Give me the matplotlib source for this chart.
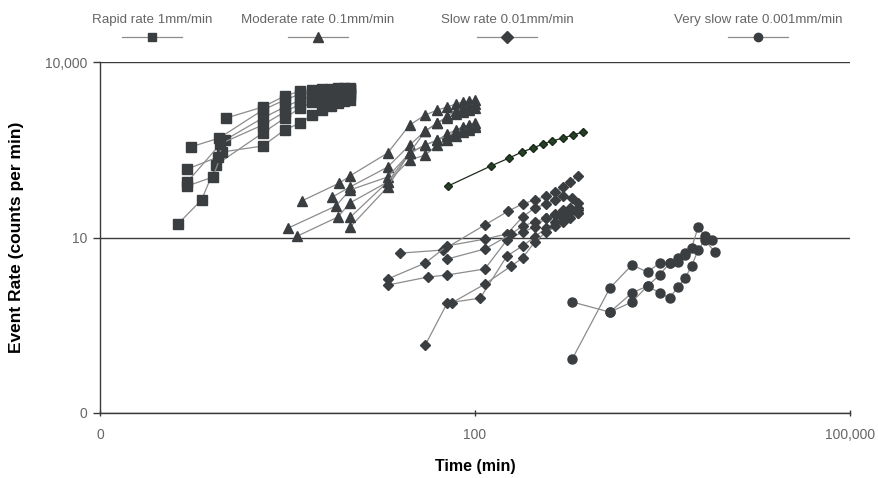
import matplotlib
matplotlib.use("Agg")
import matplotlib.pyplot as plt
from matplotlib.lines import Line2D
from matplotlib.ticker import NullLocator

plt.rcParams['font.family'] = ['Liberation Sans', 'DejaVu Sans']

# Rapid rate 1mm/min (time in min, event rate in counts per min)
rapid_time = [
    [0.42, 0.65, 0.85, 2, 3, 4, 5, 6, 7, 8, 9, 10],
    [0.5, 0.8, 0.95, 2, 3, 4, 5, 6, 7, 8, 9, 10],
    [0.5, 0.88, 1.0, 2, 3, 4, 5, 6, 7, 8, 9, 10],
    [0.53, 0.9, 2, 3, 4, 5, 6, 7, 8, 9, 10],
    [0.5, 0.92, 2, 3, 4, 5, 6, 7, 8, 9, 10],
    [1.02, 2, 3, 4, 5, 6, 7, 8, 9, 10],
]
rapid_rate = [
    [17, 44, 175, 610, 1100, 1640, 2070, 2420, 2620, 2840, 2950, 2950],
    [76, 108, 290, 366, 690, 906, 1240, 1510, 1770, 1990, 2150, 2240],
    [148, 238, 464, 1100, 1700, 2240, 2620, 2950, 3070, 3190, 3190, 3320],
    [352, 502, 1510, 2240, 2840, 3070, 3190, 3320, 3320, 3450, 3450],
    [89, 400, 838, 1400, 1915, 2150, 2330, 2520, 2620, 2730, 2730],
    [1100, 1700, 2620, 3190, 3320, 3450, 3450, 3590, 3590, 3590],
]

# Moderate rate 0.1mm/min
moderate_time = [
    [4.1, 8.2, 10, 20, 30, 40, 50, 60, 70, 80, 90, 100],
    [7.2, 10, 20, 30, 40, 50, 60, 70, 80, 90, 100],
    [3.2, 7.7, 10, 20, 30, 40, 50, 60, 70, 80, 90, 100],
    [3.8, 8.0, 10, 20, 30, 40, 50, 60, 70, 80, 90, 100],
    [10, 20, 30, 40, 50, 60, 70, 80, 90, 100],
    [10, 20, 30, 40, 50, 60, 70, 80, 90, 100],
]
moderate_rate = [
    [42, 85, 113, 278, 838, 1240, 1510, 1700, 1915, 2070, 2150, 2240],
    [49, 73, 160, 381, 662, 906, 1100, 1290, 1400, 1510, 1640],
    [14.5, 34.5, 65, 108, 278, 381, 464, 588, 688, 774, 838, 906],
    [10.6, 22.4, 39, 89, 211, 257, 381, 464, 543, 636, 688, 774],
    [15, 73, 278, 381, 464, 543, 636, 688, 744, 805],
    [22, 89, 278, 662, 906, 1190, 1450, 1640, 1770, 1915],
]

# Slow rate 0.01mm/min (one test drawn in green)
slow_green_time = [61, 134, 187, 238, 291, 350, 413, 506, 608, 731]
slow_green_rate = [76, 167, 228, 290, 339, 396, 446, 502, 565, 636]

slow_time = [
    [25, 55, 120, 185, 240, 300, 370, 440, 510, 575, 670],
    [20, 40, 60, 120, 180, 240, 300, 370, 440, 510, 600, 670],
    [20, 42, 60, 120, 180, 240, 300, 370, 440, 510, 575, 670],
    [60, 120, 195, 240, 300, 370, 440, 510, 575, 670],
    [40, 60, 110, 180, 240, 300, 370, 440, 510, 575, 670],
    [65, 120, 195, 240, 300, 370, 440, 510, 575, 670],
]
slow_rate = [
    [5.4, 6.1, 16.4, 28.4, 37.4, 43.8, 51, 60, 73, 89, 113],
    [1.95, 3.66, 7.2, 9.4, 11.5, 22.4, 31.9, 37.4, 43.8, 51, 47.3, 38.9],
    [1.54, 2.11, 2.29, 2.9, 9.06, 12.4, 15.1, 21.5, 25.2, 29.5, 31.9, 26.2],
    [4.29, 6.36, 11.5, 15.7, 18.4, 21.5, 24.2, 27.3, 29.5, 31.9],
    [0.145, 0.76, 0.92, 4.83, 7.16, 10.2, 14.5, 18.4, 21.5, 25.2, 29.5],
    [0.76, 1.6, 3.26, 4.46, 8.38, 12.4, 15.7, 18.4, 21.5, 26.2],
]

# Very slow rate 0.001mm/min
vslow_time = [
    [600, 1200, 1800, 2400, 3000, 3600, 4200, 4800, 5400, 6100, 6900, 7900],
    [600, 1200, 1800, 2400, 3000, 3600, 4200, 4800],
    [1200, 1800, 2400, 3000, 3600, 4200, 4800, 5400, 6100, 6900, 8300],
]
vslow_rate = [
    [0.084, 1.37, 3.39, 2.57, 3.66, 3.66, 3.81, 5.0, 6.6, 15.1, 10.6, 9.06],
    [0.79, 0.53, 1.13, 1.48, 2.29, 3.66, 4.5, 5.5],
    [0.53, 0.79, 1.48, 1.13, 0.92, 1.43, 2.03, 3.26, 6.1, 9.06, 5.65],
]

tick_vals_x = [0.1, 100, 1e5]
tick_labels_x = ['0', '100', '100,000']
tick_vals_y = [0.01, 10, 1e4]
tick_labels_y = ['0', '10', '10,000']

legend_labels = ['Rapid rate 1mm/min', 'Moderate rate 0.1mm/min',
                 'Slow rate 0.01mm/min', 'Very slow rate 0.001mm/min']

mark_col = '#3b3e40'
line_col = '#8c8c8c'

fig = plt.figure(figsize=(8.79, 4.78), dpi=100)
ax = fig.add_axes([100 / 879, 65 / 478, 750 / 879, 351 / 478])
ax.set_xscale('log')
ax.set_yscale('log')

groups = [
    (rapid_time, rapid_rate, 's', 7),
    (moderate_time, moderate_rate, '^', 7),
    (slow_time, slow_rate, 'D', 5.5),
    (vslow_time, vslow_rate, 'o', 6.5),
]
for times, rates, mk, ms in groups:
    for t, r in zip(times, rates):
        ax.plot(t, r, color=line_col, lw=0.9, marker=mk, ms=ms,
                mfc=mark_col, mec=mark_col, zorder=3)

ax.plot(slow_green_time, slow_green_rate, color='#1d2a1d', lw=0.9, marker='D',
        ms=4.5, mfc='#264026', mec='#1a2a1a', zorder=3)

ax.set_xlim(0.1, 1e5)
ax.set_ylim(0.01, 1e4)
ax.set_xticks(tick_vals_x)
ax.set_xticklabels(tick_labels_x)
ax.set_yticks(tick_vals_y)
ax.set_yticklabels(tick_labels_y)
ax.xaxis.set_minor_locator(NullLocator())
ax.yaxis.set_minor_locator(NullLocator())

ax.yaxis.grid(True, color='#3a3a3a', lw=1.0)
ax.set_axisbelow(True)
for s in ['top', 'right']:
    ax.spines[s].set_visible(False)
for s in ['left', 'bottom']:
    ax.spines[s].set_color('#3a3a3a')
    ax.spines[s].set_linewidth(1.0)

ax.tick_params(axis='both', colors='#3a3a3a', labelcolor='#666666',
               labelsize=10, length=5, width=1)
ax.tick_params(axis='x', direction='inout', pad=8)
ax.tick_params(axis='y', direction='out', pad=4)

ax.set_xlabel('Time (min)', fontsize=11.5, fontweight='bold', va='center')
ax.xaxis.set_label_coords(0.5, -0.151)
ax.set_ylabel('Event Rate (counts per min)', fontsize=12.5, fontweight='bold', va='center')
ax.yaxis.set_label_coords(-0.111, 0.5)

# legend drawn excel style: label on top, sample line below
leg_x = [152, 318, 507, 758]
leg_mk = [('s', 6, mark_col), ('^', 6.5, mark_col), ('D', 6, mark_col), ('o', 6, mark_col)]
for cx, lab, (mk, ms, col) in zip(leg_x, legend_labels, leg_mk):
    fig.text(cx / 879, 1 - 20 / 478, lab, ha='center', va='center',
             color='#666666', fontsize=9.6)
    fig.add_artist(Line2D([(cx - 30) / 879, cx / 879, (cx + 30) / 879],
                          [1 - 37 / 478] * 3, transform=fig.transFigure,
                          color=line_col, lw=0.9, marker=mk, ms=ms,
                          mfc=col, mec=col, markevery=[1]))

fig.savefig('out.png', dpi=100)
